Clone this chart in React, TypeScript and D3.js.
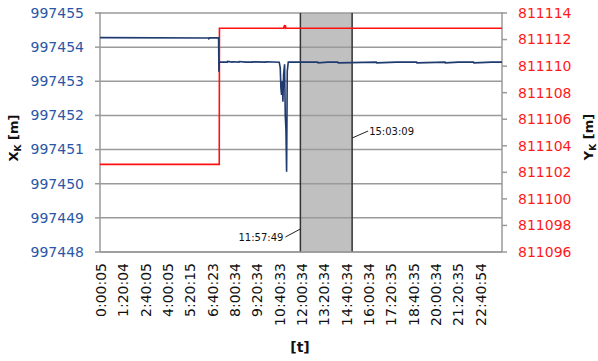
import React from "react";
import { scaleLinear, line } from "d3";

// x tick labels (time of day)
const timeLabels = [
  "0:00:05", "1:20:04", "2:40:05", "4:00:05", "5:20:15", "6:40:23",
  "8:00:34", "9:20:34", "10:40:33", "12:00:34", "13:20:34", "14:40:34",
  "16:00:34", "17:20:35", "18:40:35", "20:00:34", "21:20:35", "22:40:54",
];

const xkTicks = [997448, 997449, 997450, 997451, 997452, 997453, 997454, 997455];
const ykTicks = [811096, 811098, 811100, 811102, 811104, 811106, 811108, 811110, 811112, 811114];

// X_K series (hours, metres)
const xkHours = [
  0, 6.48, 6.5, 6.53, 7.08, 7.1, 7.12, 7.15, 7.6, 7.62, 7.9, 7.93,
  8.3, 8.32, 8.7, 9.1, 9.12, 9.9, 9.92, 10.7, 10.76, 10.8, 10.84, 10.88, 10.92,
  10.96, 11.02, 11.06, 11.1, 11.14, 11.18, 11.24, 13.0, 13.02, 13.6, 14.2, 14.22,
  16.5, 16.52, 17.7, 18.9, 18.92, 20.6, 20.62, 21.4, 22.3, 22.32, 23.4, 24,
];
const xkValues = [
  997454.28, 997454.27, 997454.25, 997454.27,
  997454.27, 997453.28, 997453.58, 997453.56, 997453.56, 997453.58, 997453.56,
  997453.57, 997453.56, 997453.58, 997453.56, 997453.56, 997453.57, 997453.56,
  997453.57, 997453.56, 997453.4, 997452.8, 997452.6, 997453.0, 997452.4,
  997453.2, 997453.5, 997452.0, 997451.6, 997450.35, 997453.3, 997453.56,
  997453.56, 997453.54, 997453.56, 997453.56, 997453.54, 997453.56, 997453.54,
  997453.56, 997453.56, 997453.54, 997453.56, 997453.54, 997453.56, 997453.56,
  997453.54, 997453.56, 997453.56,
];

// Y_K series (hours, metres)
const ykHours = [0, 7.12, 7.13, 10.95, 11.0, 11.03, 11.06, 11.1, 24];
const ykValues = [
  811102.6, 811102.6, 811112.85, 811112.85, 811113.0, 811112.92, 811113.08,
  811112.85, 811112.85,
];

// shaded interval
const intervalLabels = ["11:57:49", "15:03:09"];

const toHours = (s: string) => {
  const [h, m, sec] = s.split(":").map(Number);
  return h + m / 60 + sec / 3600;
};

const W = 598;
const H = 361;
const left = 100;
const right = 502;
const top = 13;
const bottom = 252;
const font = "'DejaVu Sans', sans-serif";
const gridColor = "#9a9a9a";

export default function App() {
  const x = scaleLinear().domain([0, 24]).range([left, right]);
  const yL = scaleLinear().domain([997448, 997455]).range([bottom, top]);
  const yR = scaleLinear().domain([811096, 811114]).range([bottom, top]);

  const xkLine = line<number>()
    .x((_, i) => x(xkHours[i]))
    .y((v) => yL(v));
  const ykLine = line<number>()
    .x((_, i) => x(ykHours[i]))
    .y((v) => yR(v));

  const [t0, t1] = intervalLabels.map(toHours);
  const x0 = x(t0);
  const x1 = x(t1);

  return (
    <svg
      width={W}
      height={H}
      style={{ position: "absolute", left: 0, top: 0, background: "#fff" }}
      fontFamily={font}
    >
      {/* shaded interval */}
      <rect x={x0} y={top} width={x1 - x0} height={bottom - top} fill="#c0c0c0" />

      {/* grid lines */}
      {xkTicks.map((t) => (
        <line key={t} x1={left} x2={right} y1={yL(t)} y2={yL(t)} stroke={gridColor} strokeWidth={1.5} />
      ))}

      <line x1={x0} x2={x0} y1={top} y2={bottom} stroke="#333" strokeWidth={1.5} />
      <line x1={x1} x2={x1} y1={top} y2={bottom} stroke="#333" strokeWidth={1.5} />

      {/* axes */}
      <line x1={left} x2={left} y1={top - 1} y2={bottom} stroke={gridColor} strokeWidth={1.5} />
      <line x1={right} x2={right} y1={top - 1} y2={bottom} stroke={gridColor} strokeWidth={1.5} />
      <line x1={left} x2={right} y1={bottom} y2={bottom} stroke={gridColor} strokeWidth={1.5} />

      {/* left axis */}
      {xkTicks.map((t) => (
        <g key={t} transform={`translate(${left},${yL(t)})`}>
          <line x1={-5} x2={0} stroke={gridColor} strokeWidth={1.5} />
          <text x={-16} dy="0.35em" textAnchor="end" fontSize={14} fill="#2a56a6">
            {t}
          </text>
        </g>
      ))}

      {/* right axis */}
      {ykTicks.map((t) => (
        <g key={t} transform={`translate(${right},${yR(t)})`}>
          <line x1={0} x2={5} stroke={gridColor} strokeWidth={1.5} />
          <text x={16} dy="0.35em" textAnchor="start" fontSize={14} fill="#ff1a1a">
            {t}
          </text>
        </g>
      ))}

      {/* x axis labels */}
      {timeLabels.map((l) => (
        <text
          key={l}
          transform={`translate(${x(toHours(l)) + 1},${bottom + 11}) rotate(-90)`}
          textAnchor="end"
          dy="0.35em"
          fontSize={14}
          fill="#111"
        >
          {l}
        </text>
      ))}

      {/* series */}
      <path d={ykLine(ykValues) ?? ""} fill="none" stroke="#ff1010" strokeWidth={1.6} />
      <path d={xkLine(xkValues) ?? ""} fill="none" stroke="#1f3a6e" strokeWidth={1.6} />

      {/* interval annotations */}
      <line x1={x0 - 15} y1={237} x2={x0} y2={229} stroke="#222" strokeWidth={1} />
      <text x={x0 - 17} y={237} dy="0.35em" textAnchor="end" fontSize={10} fill="#111">
        {intervalLabels[0]}
      </text>
      <line x1={x1} y1={138} x2={x1 + 16} y2={131} stroke="#222" strokeWidth={1} />
      <text x={x1 + 17} y={131} dy="0.35em" textAnchor="start" fontSize={10} fill="#111">
        {intervalLabels[1]}
      </text>

      {/* titles */}
      <text transform="translate(18,138) rotate(-90)" textAnchor="middle" fontSize={13} fontWeight="bold" fill="#111">
        X<tspan fontSize={9} dy={3}>K</tspan>
        <tspan dy={-3}> [m]</tspan>
      </text>
      <text transform="translate(593,137) rotate(-90)" textAnchor="middle" fontSize={13} fontWeight="bold" fill="#111">
        Y<tspan fontSize={9} dy={3}>K</tspan>
        <tspan dy={-3}> [m]</tspan>
      </text>
      <text x={300} y={352} textAnchor="middle" fontSize={14} fontWeight="bold" fill="#111">
        [t]
      </text>
    </svg>
  );
}
